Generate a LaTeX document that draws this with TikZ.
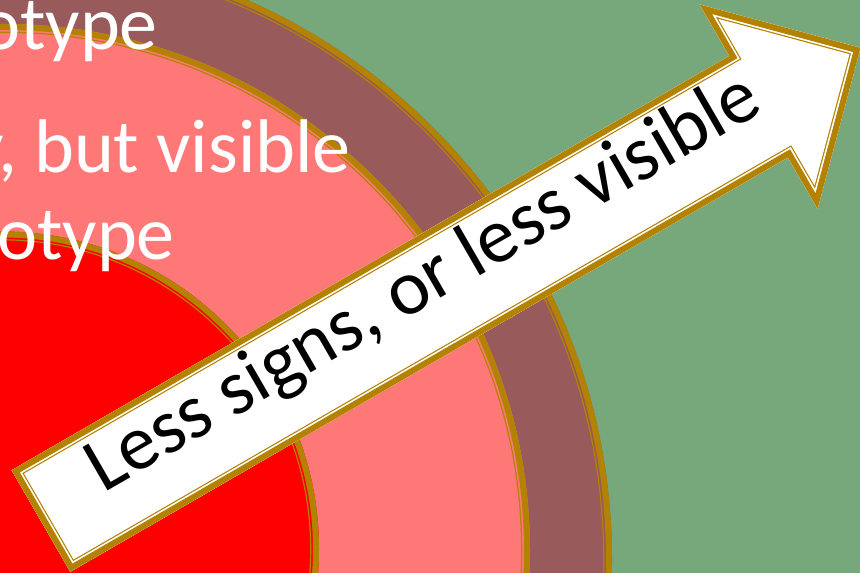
\documentclass[tikz,border=0pt]{standalone}
\usepackage{fontspec}
\setmainfont{Carlito}
\definecolor{bggreen}{HTML}{76A87C}
\definecolor{ringbrown}{HTML}{985A5A}
\definecolor{ringpink}{HTML}{FF7878}
\definecolor{ringred}{HTML}{FF0000}
\definecolor{gold}{HTML}{B38200}
\tikzset{
  goldthick/.style={draw=gold, line width=6},
  goldthin/.style={draw=gold, line width=1.2},
  toptext/.style={text=white, font=\fontsize{76}{76}\selectfont, inner sep=0pt},
  arrowtext/.style={text=black, font=\fontsize{78}{78}\selectfont, inner sep=0pt},
  arrowshape/.style={insert path={(0,58.6) -- (828.6,58.6) -- (828.6,118) -- (946.3,0) -- (828.6,-118) -- (828.6,-58.6) -- (0,-58.6) -- cycle}}
}
\begin{document}
\begin{tikzpicture}[x=1pt,y=1pt]
\useasboundingbox (0,0) rectangle (860,573);
\clip (0,0) rectangle (860,573);
\fill[bggreen] (0,0) rectangle (860,573);
% outer brown disk
\coordinate (Ob) at (0,13);
\fill[ringbrown] (Ob) circle[radius=612];
\draw[goldthick] (Ob) circle[radius=609];
\draw[goldthin] (Ob) circle[radius=603.7];
% pink disk
\coordinate (Op) at (3,22);
\fill[ringpink] (Op) circle[radius=527];
\draw[goldthick] (Op) circle[radius=524];
\draw[goldthin] (Op) circle[radius=518.7];
% red disk
\coordinate (Or) at (1.5,24);
\fill[ringred] (Or) circle[radius=317.5];
\draw[goldthick] (Or) circle[radius=314.5];
\draw[goldthin] (Or) circle[radius=309.2];
% texts
\node[toptext, anchor=base east] (t1) at (158,523) {otype};
\node[toptext, anchor=base east] (t2) at (351,400) {y, but visible};
\node[toptext, anchor=base east] (t3) at (175,313) {otype};
% arrow
\begin{scope}[shift={(41,52)}, rotate=30]
  \begin{scope}
    \clip[arrowshape];
    \fill[white, arrowshape];
    \draw[gold, line width=17.8, line join=miter, arrowshape];
    \draw[white, line width=15.4, line join=miter, arrowshape];
    \draw[gold, line width=12, line join=miter, arrowshape];
  \end{scope}
  \node[arrowtext, anchor=base, rotate=30] (lbl) at (450,-7) {Less signs, or less visible};
\end{scope}
\end{tikzpicture}
\end{document}
